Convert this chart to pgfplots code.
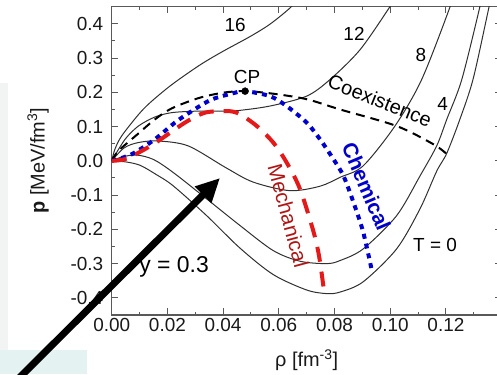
\documentclass[border=0pt]{standalone}
\usepackage{pgfplots}
\pgfplotsset{compat=1.18}
\usepackage{fontspec}
\setmainfont{Liberation Sans}
\usetikzlibrary{arrows.meta}
\definecolor{isocol}{HTML}{303030}
\definecolor{chemblue}{HTML}{0000CC}
\definecolor{mechred}{HTML}{E41A1A}
\definecolor{mechtext}{HTML}{B01515}
\definecolor{panelgray}{HTML}{F2F4F4}
\definecolor{panelteal}{HTML}{E4F2F2}
\begin{document}
\begin{tikzpicture}[x=1bp,y=1bp]
\path[use as bounding box] (0,0) rectangle (497,374);
\fill[panelgray] (0,24) rectangle (8,291);
\fill[panelteal] (0,0) rectangle (87,24);
\begin{axis}[
  at={(111.7bp,59bp)}, anchor=south west,
  width=389.9bp, height=308.3bp, scale only axis,
  xmin=0, xmax=0.14, ymin=-0.45, ymax=0.45,
  axis line style={line width=1.2bp, draw=black!65},
  every tick/.style={draw=black!65, line width=1bp},
  tick align=inside,
  major tick length=6.7bp, minor tick length=3.4bp,
  xtick={0,0.02,0.04,0.06,0.08,0.10,0.12},
  xticklabels={0.00,0.02,0.04,0.06,0.08,0.10,0.12},
  minor xtick={0.01,0.03,0.05,0.07,0.09,0.11,0.13},
  ytick={-0.4,-0.3,-0.2,-0.1,0,0.1,0.2,0.3,0.4},
  yticklabels={-0.4,-0.3,-0.2,-0.1,0.0,0.1,0.2,0.3,0.4},
  minor ytick={-0.35,-0.25,-0.15,-0.05,0.05,0.15,0.25,0.35},
  ticklabel style={font=\fontsize{19}{22}\selectfont, text=black!90},
  yticklabel style={xshift=-5bp},
  xlabel={\fontsize{20}{24}\selectfont ρ [fm\textsuperscript{-3}]},
  xlabel style={at={(axis description cs:0.5,-0.146)}, anchor=center, text=black!90},
  ylabel={\fontsize{20}{24}\selectfont \textbf{p} [MeV/fm\textsuperscript{3}]},
  ylabel style={at={(axis description cs:-0.189,0.5)}, anchor=center, text=black!90},
]
% T = 16
\addplot[isocol, line width=1bp, smooth] coordinates {
(0,0) (0.0012,0.035) (0.0036,0.073) (0.0096,0.135) (0.0138,0.170) (0.0215,0.222)
(0.0317,0.280) (0.040,0.320) (0.0497,0.363) (0.057,0.40) (0.0645,0.45) (0.067,0.48)};
% T = 12
\addplot[isocol, line width=1bp, smooth] coordinates {
(0,0) (0.0048,0.063) (0.0096,0.1017) (0.0155,0.128) (0.0215,0.1407) (0.030,0.145)
(0.0371,0.1453) (0.0443,0.1460) (0.0568,0.160) (0.070,0.189) (0.0784,0.2375)
(0.0892,0.3247) (0.0999,0.45) (0.102,0.48)};
% T = 8
\addplot[isocol, line width=1bp, smooth] coordinates {
(0,0) (0.0045,0.038) (0.0096,0.0535) (0.0167,0.058) (0.0275,0.0436) (0.041,-0.020)
(0.0508,-0.062) (0.064,-0.087) (0.0748,-0.074) (0.082,-0.048) (0.0903,-0.0145)
(0.1017,0.1017) (0.1113,0.2375) (0.1215,0.45) (0.124,0.52)};
% T = 4
\addplot[isocol, line width=1bp, smooth] coordinates {
(0,0) (0.004,0.012) (0.009,0.017) (0.015,0.004) (0.0221,-0.034) (0.0341,-0.111)
(0.0461,-0.189) (0.058,-0.262) (0.0676,-0.293) (0.0772,-0.300) (0.082,-0.291)
(0.0903,-0.257) (0.1023,-0.160) (0.1107,-0.044) (0.1167,0.044) (0.1203,0.121)
(0.1257,0.2375) (0.1322,0.45) (0.1340,0.52)};
% T = 0
\addplot[isocol, line width=1bp, smooth] coordinates {
(0,0) (0.005,-0.003) (0.0102,-0.013) (0.016,-0.040) (0.0221,-0.073) (0.0341,-0.160)
(0.0461,-0.255) (0.058,-0.332) (0.070,-0.377) (0.0772,-0.3875) (0.082,-0.383)
(0.0903,-0.353) (0.1023,-0.257) (0.1107,-0.140) (0.1167,-0.030) (0.1203,0.022)
(0.125,0.121) (0.1298,0.240) (0.1355,0.45) (0.1375,0.52)};
% Coexistence
\addplot[black, line width=2bp, dash pattern=on 9bp off 6bp, smooth] coordinates {
(0,0) (0.0024,0.029) (0.0096,0.080) (0.0155,0.121) (0.0215,0.153) (0.0311,0.183)
(0.040,0.199) (0.0479,0.2035) (0.058,0.196) (0.070,0.180) (0.082,0.150)
(0.1023,0.1017) (0.1155,0.0485) (0.1203,0.020)};
% Chemical spinodal
\addplot[chemblue, line width=4bp, dash pattern=on 5bp off 5bp, smooth] coordinates {
(0,0) (0.0072,0.0195) (0.0155,0.063) (0.0227,0.1116) (0.0287,0.145) (0.0359,0.179)
(0.0443,0.199) (0.0479,0.2035) (0.0568,0.189) (0.0628,0.160) (0.070,0.1116)
(0.0748,0.063) (0.0796,0.005) (0.0832,-0.0436) (0.0868,-0.121) (0.0903,-0.208)
(0.0934,-0.32)};
% Mechanical spinodal
\addplot[mechred, line width=4bp, dash pattern=on 15bp off 10bp, smooth] coordinates {
(0,0) (0.0048,0.005) (0.0108,0.029) (0.0167,0.058) (0.0263,0.1116) (0.0335,0.1407)
(0.0419,0.1453) (0.0461,0.1358) (0.0521,0.1017) (0.058,0.0535) (0.0628,-0.0047)
(0.0676,-0.082) (0.0724,-0.205) (0.0745,-0.280) (0.0762,-0.378)};
% Critical point
\addplot[black, only marks, mark=*, mark size=3.5bp] coordinates {(0.0479,0.2035)};
% annotations
\node[font=\fontsize{19}{22}\selectfont] at (axis cs:0.0443,0.396) {16};
\node[font=\fontsize{19}{22}\selectfont] at (axis cs:0.0870,0.371) {12};
\node[font=\fontsize{19}{22}\selectfont] at (axis cs:0.1110,0.310) {8};
\node[font=\fontsize{19}{22}\selectfont] at (axis cs:0.1188,0.165) {4};
\node[font=\fontsize{19}{22}\selectfont] at (axis cs:0.1161,-0.2445) {T = 0};
\node[font=\fontsize{19}{22}\selectfont] at (axis cs:0.0486,0.246) {CP};
\node[font=\fontsize{20}{24}\selectfont, rotate=-22] at (axis cs:0.0963,0.176) {Coexistence};
\node[font=\fontsize{21}{24}\selectfont\bfseries, text=chemblue, rotate=-67] at (axis cs:0.0915,-0.075) {Chemical};
\node[font=\fontsize{21}{24}\selectfont, text=mechtext, rotate=-75] at (axis cs:0.0634,-0.16) {Mechanical};
\node[font=\fontsize{23}{26}\selectfont] at (axis cs:0.0224,-0.309) {y = 0.3};
\end{axis}
\draw[line width=7bp, -{Triangle[length=24bp,width=22bp]}] (15,-8) -- (220,196);
\end{tikzpicture}
\end{document}
